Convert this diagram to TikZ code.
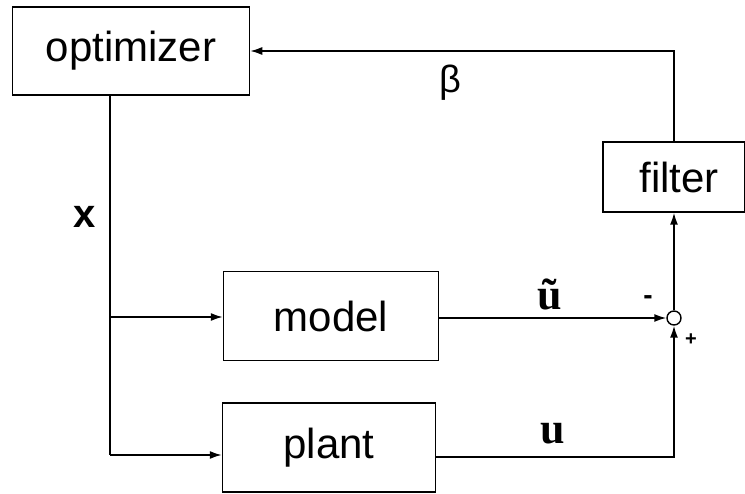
\documentclass[tikz,border=0pt]{standalone}
\usepackage{fontspec}
\setmainfont{Liberation Sans}
\newfontfamily\lblserif{Liberation Serif}
\usetikzlibrary{arrows.meta}
\begin{document}
\begin{tikzpicture}[x=1pt,y=-1pt,
  blk/.style={draw,line width=1.5pt,rectangle,inner sep=0pt,font=\fontsize{42}{50}\selectfont},
  conn/.style={line width=1.6pt},
  arr/.style={conn,-{Latex[length=12pt,width=8pt]}},
  lbl/.style={inner sep=0pt,font=\fontsize{40}{46}\selectfont\bfseries},
  slbl/.style={inner sep=0pt,font=\fontsize{44}{50}\selectfont\lblserif\bfseries},
  sgn/.style={inner sep=0pt,font=\fontsize{28}{32}\selectfont\bfseries}]
\useasboundingbox (0,0) rectangle (745,494);
\node[blk,minimum width=237pt,minimum height=88pt] (opt) at (131,51) {optimizer};
\node[blk,minimum width=142pt,minimum height=70pt] (filter) at (674,177) {\hspace{10pt}filter};
\node[blk,minimum width=215pt,minimum height=89pt] (model) at (331,316) {model};
\node[blk,minimum width=213pt,minimum height=89pt] (plant) at (329,447.5) {plant};
\node[draw,circle,line width=1.4pt,minimum size=14pt,inner sep=0pt] (sum) at (674,318) {};
\coordinate (b1) at (110,317);
\coordinate (b2) at (110,455);
\coordinate (uc) at (674,457);
\draw[conn] (opt.south -| b1) -- (b2);
\draw[arr] (b1) -- (model.west |- b1);
\draw[arr] (b2) -- (plant.west |- b2);
\draw[arr] (model.east |- sum) -- (sum.west);
\draw[arr] (plant.east |- uc) -- (uc) -- (sum.south);
\draw[arr] (sum.north) -- (filter.south -| sum);
\draw[arr] (filter.north) |- (opt.east);
\node[lbl] (xl) at (85,217) {x};
\node[slbl] (ut) at (550,294) {ũ};
\node[slbl] (ul) at (553,434) {u};
\node[inner sep=0pt,font=\fontsize{38}{44}\selectfont] (bl) at (450,83) {β};
\node[sgn] (mi) at (648,300) {-};
\node[inner sep=0pt,font=\fontsize{20}{24}\selectfont\bfseries] (pl) at (691,340) {+};
\end{tikzpicture}
\end{document}
